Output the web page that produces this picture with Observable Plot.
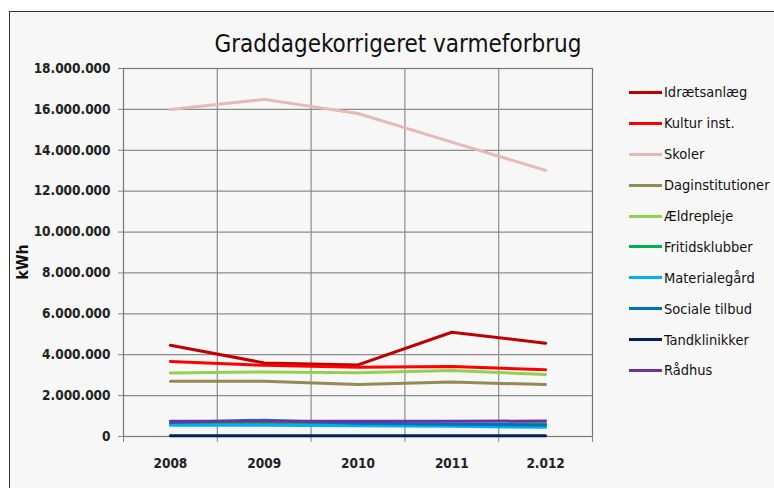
<!DOCTYPE html>
<html>
<head>
<meta charset="utf-8">
<script src="https://cdn.jsdelivr.net/npm/d3@7"></script>
<script src="https://cdn.jsdelivr.net/npm/@observablehq/plot@0.6"></script>
<style>
  html, body { margin: 0; padding: 0; background: #ffffff; }
  #wrap { position: relative; width: 774px; height: 488px; overflow: hidden; background: #fff;
    font-family: "Liberation Sans Narrow", "DejaVu Sans Condensed", "Open Sans", sans-serif; color: #111; }
  #frame { position: absolute; left: 9px; top: 11px; width: 800px; height: 520px; border: 1.5px solid #333; background: #f7f7f7; }
  #chart { position: absolute; left: 0; top: 0; }
  #title { position: absolute; left: 0; width: 796px; top: 30px; text-align: center; font-size: 24px; color: #111; }
  #ylabel { position: absolute; left: 22px; top: 262px; transform: translate(-50%, -50%) rotate(-90deg); font-size: 16px; font-weight: bold; }
  #legend { position: absolute; left: 629px; top: 77px; }
  .row { height: 30.9px; display: flex; align-items: center; font-size: 14.5px; }
  .sw { width: 33px; height: 3px; margin-right: 2px; }
</style>
</head>
<body>
<div id="wrap">
  <div id="frame"></div>
  <div id="chart"></div>
  <div id="title">Graddagekorrigeret varmeforbrug</div>
  <div id="ylabel">kWh</div>
  <div id="legend"></div>
</div>
<script>
const years = [2008, 2009, 2010, 2011, 2012];
const yearLabels = ["2008", "2009", "2010", "2011", "2.012"];
const seriesNames = ["Idrætsanlæg", "Kultur inst.", "Skoler", "Daginstitutioner", "Ældrepleje",
  "Fritidsklubber", "Materialegård", "Sociale tilbud", "Tandklinikker", "Rådhus"];
const seriesColors = ["#c00000", "#ff0000", "#e6b9b8", "#948a54", "#92d050",
  "#00b050", "#00b0f0", "#0070c0", "#002060", "#7030a0"];

const idraetsanlaeg   = [4460000, 3600000, 3500000, 5100000, 4560000];
const kulturInst      = [3670000, 3480000, 3390000, 3420000, 3260000];
const skoler          = [16000000, 16490000, 15800000, 14400000, 13020000];
const daginst         = [2700000, 2700000, 2540000, 2660000, 2540000];
const aeldrepleje     = [3100000, 3160000, 3120000, 3230000, 3030000];
const fritidsklubber  = [620000, 620000, 600000, 600000, 620000];
const materialegaard  = [550000, 550000, 530000, 500000, 450000];
const socialeTilbud   = [680000, 800000, 650000, 600000, 550000];
const tandklinikker   = [40000, 40000, 40000, 40000, 40000];
const raadhus         = [750000, 750000, 740000, 740000, 760000];

const yTicks = [0, 2000000, 4000000, 6000000, 8000000, 10000000, 12000000, 14000000, 16000000, 18000000];
const xBounds = [2007.5, 2008.5, 2009.5, 2010.5, 2011.5, 2012.5];

const allValues = [idraetsanlaeg, kulturInst, skoler, daginst, aeldrepleje,
  fritidsklubber, materialegaard, socialeTilbud, tandklinikker, raadhus];
const rows = [];
seriesNames.forEach((s, i) => years.forEach((y, j) => rows.push({series: s, year: y, value: allValues[i][j]})));

const fmt = v => d3.format(",")(v).replace(/,/g, ".");
const fontFamily = '"Liberation Sans Narrow", "DejaVu Sans Condensed", "Open Sans", sans-serif';

const chart = Plot.plot({
  width: 774, height: 488,
  marginLeft: 123, marginRight: 182, marginTop: 68, marginBottom: 52,
  style: {background: "transparent", fontFamily, fontSize: "13.5px", fontWeight: "bold", color: "#222"},
  x: {type: "linear", domain: [2007.5, 2012.5]},
  y: {domain: [0, 18000000]},
  color: {domain: seriesNames, range: seriesColors},
  marks: [
    Plot.gridY(yTicks, {stroke: "#8c8c8c", strokeOpacity: 1, strokeWidth: 1.2}),
    Plot.gridX(xBounds.slice(1, -1), {stroke: "#8c8c8c", strokeOpacity: 1, strokeWidth: 1.2}),
    Plot.frame({stroke: "#777", strokeWidth: 1.2}),
    Plot.axisY(yTicks, {tickFormat: fmt, tickSize: 5, tickPadding: 8, label: null, stroke: "#888"}),
    Plot.axisX(xBounds, {tickFormat: () => "", tickSize: 6, label: null, stroke: "#888"}),
    Plot.axisX(years, {tickFormat: d => yearLabels[years.indexOf(d)], tickSize: 0, tickPadding: 22, label: null}),
    Plot.line(rows, {x: "year", y: "value", z: "series", stroke: "series", strokeWidth: 3, strokeLinejoin: "round"})
  ]
});
document.getElementById("chart").appendChild(chart);

const legend = document.getElementById("legend");
seriesNames.forEach((s, i) => {
  const row = document.createElement("div");
  row.className = "row";
  const sw = document.createElement("div");
  sw.className = "sw";
  sw.style.background = seriesColors[i];
  const t = document.createElement("span");
  t.textContent = s;
  row.appendChild(sw); row.appendChild(t);
  legend.appendChild(row);
});
</script>
</body>
</html>
